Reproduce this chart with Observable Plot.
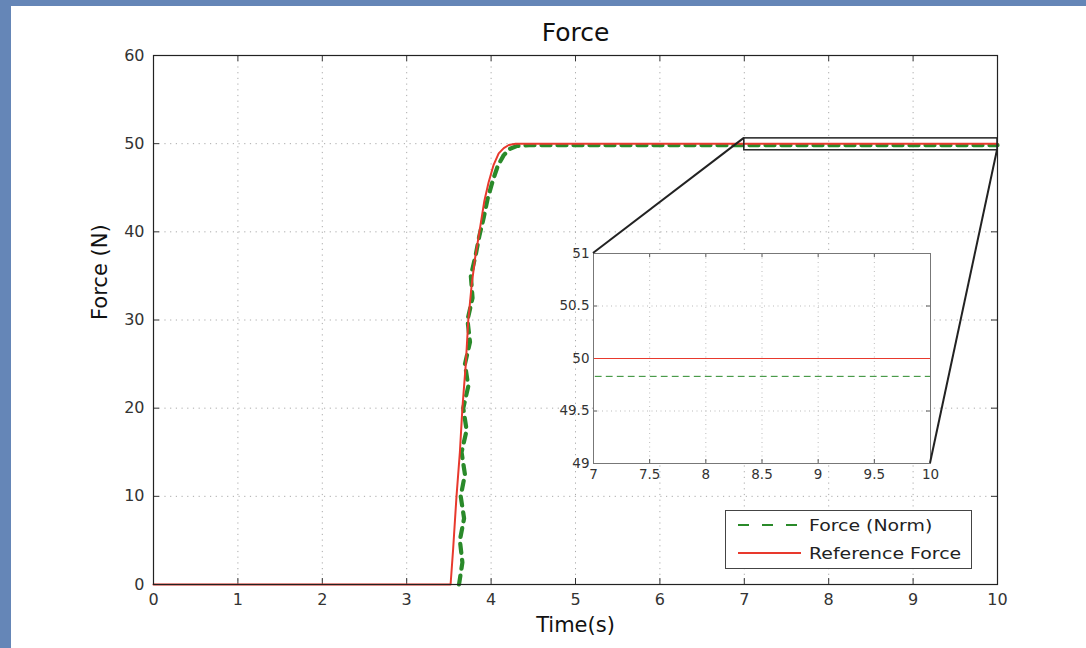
<!DOCTYPE html>
<html><head><meta charset="utf-8">
<script src="https://cdn.jsdelivr.net/npm/d3@7"></script>
<script src="https://cdn.jsdelivr.net/npm/@observablehq/plot@0.6"></script>
<style>
html,body{margin:0;padding:0;background:#6586b7;width:1086px;height:648px;overflow:hidden;}
#page{position:absolute;left:11px;top:6px;width:1075px;height:642px;background:#fff;font-family:"DejaVu Sans",sans-serif;}
#main,#inset,#links,#legend{position:absolute;}
#main{left:0;top:0;}
#inset{left:542px;top:237px;}
#links{left:0;top:0;pointer-events:none;}
#legend{left:714px;top:504px;width:245px;height:57px;border:1px solid #444;background:#fff;color:#222;font-size:16px;}
.row{position:absolute;left:0;height:24px;display:flex;align-items:center;}
.row svg{margin-left:12px;margin-right:8px;}
.row span{display:inline-block;transform:scaleX(1.18);transform-origin:left center;}
</style></head><body><div id="page"><div id="main"></div><div id="inset"></div><svg id="links" width="1075" height="642"></svg><div id="legend"></div></div>
<script>
// ---- data ----
const xTicks = [0,1,2,3,4,5,6,7,8,9,10];
const yTicks = [0,10,20,30,40,50,60];
const insetXTicks = [7,7.5,8,8.5,9,9.5,10];
const insetYTicks = [49,49.5,50,50.5,51];
const refTime  = [0, 3.52, 3.55, 3.59, 3.63, 3.66, 3.70, 3.73, 3.77, 3.81, 3.87, 3.92, 3.97, 4.03, 4.09, 4.15, 4.21, 4.29, 4.40, 5, 7, 10];
const refForce = [0, 0,    4,    10,   15,   20,   25,   30,   34,   37,   40.5, 43.5, 45.6, 47.6, 48.9, 49.5, 49.85, 50,  50,   50, 50, 50];
const normTime  = [3.62, 3.66, 3.63, 3.68, 3.64, 3.69, 3.65, 3.71, 3.67, 3.73, 3.69, 3.75, 3.72, 3.78, 3.76, 3.82, 3.86, 3.91, 3.96, 4.02, 4.08, 4.15, 4.22, 4.31, 4.45, 5, 7, 10];
const normForce = [0,    2.5,  5,    7.5,  10,   12.5, 15,   17.5, 20,   22.5, 25,   27.5, 30,   32.5, 35,   37.5, 39.5, 41.5, 43.8, 45.8, 47.5, 48.7, 49.4, 49.75, 49.83, 49.83, 49.83, 49.83];
const zoomBox = [{x1: 7, x2: 10, y1: 49.25, y2: 50.6}];
const seriesNames = ["Force (Norm)", "Reference Force"];
const seriesColors = ["#2a8a2a", "#e8392d"];

const refData = refTime.map((t,i)=>({t, f: refForce[i]}));
const normData = normTime.map((t,i)=>({t, f: normForce[i]}));

const font = '"DejaVu Sans", sans-serif';
const W = 1075, H = 642, mL = 142, mR = 89, mT = 49, mB = 64;
const pw = W - mL - mR, ph = H - mT - mB;

const main = Plot.plot({
  width: W, height: H, marginLeft: mL, marginRight: mR, marginTop: mT, marginBottom: mB,
  x: {domain: [0,10]},
  y: {domain: [0,60]},
  style: {fontFamily: font, fontSize: "16px", color: "#333", background: "transparent", overflow: "visible"},
  marks: [
    Plot.gridX(xTicks, {stroke: "#aaa", strokeOpacity: 1, strokeDasharray: "1.2,4.5"}),
    Plot.gridY(yTicks, {stroke: "#aaa", strokeOpacity: 1, strokeDasharray: "1.2,4.5"}),
    Plot.axisX(xTicks, {tickSize: 0, tickPadding: 9, label: null, tickFormat: d => String(d), fontSize: 16}),
    Plot.axisY(yTicks, {tickSize: 0, tickPadding: 9, label: null, tickFormat: d => String(d), fontSize: 16}),
    Plot.tickX(xTicks, {x: d => d, insetTop: ph - 6, stroke: "#333"}),
    Plot.tickX(xTicks, {x: d => d, insetBottom: ph - 6, stroke: "#333"}),
    Plot.tickY(yTicks, {y: d => d, insetRight: pw - 6, stroke: "#333"}),
    Plot.tickY(yTicks, {y: d => d, insetLeft: pw - 6, stroke: "#333"}),
    Plot.line(normData, {x: "t", y: "f", stroke: seriesColors[0], strokeWidth: 4.2, strokeDasharray: "9,7"}),
    Plot.line(refData, {x: "t", y: "f", stroke: seriesColors[1], strokeWidth: 2}),
    Plot.rect(zoomBox, {x1: "x1", x2: "x2", y1: "y1", y2: "y2", fill: "none", stroke: "#222", strokeWidth: 1.5}),
    Plot.frame({stroke: "#222", strokeWidth: 1.2}),
    Plot.text(["Force"], {frameAnchor: "top", dy: -32, fontSize: 25, fill: "#111"}),
    Plot.text(["Time(s)"], {frameAnchor: "bottom", dy: 47, fontSize: 21, fill: "#111"}),
    Plot.text(["Force (N)"], {frameAnchor: "left", dx: -53, rotate: -90, fontSize: 21, fill: "#111"})
  ]
});
document.getElementById("main").appendChild(main);

const iW = 389, iH = 244, imL = 40, imR = 12, imT = 10, imB = 24;
const ipw = iW - imL - imR, iph = iH - imT - imB;
const inset = Plot.plot({
  width: iW, height: iH, marginLeft: imL, marginRight: imR, marginTop: imT, marginBottom: imB,
  x: {domain: [7,10]},
  y: {domain: [49,51]},
  style: {fontFamily: font, fontSize: "13px", color: "#333", background: "transparent", overflow: "visible"},
  marks: [
    Plot.frame({fill: "white", stroke: "none"}),
    Plot.gridX(insetXTicks, {stroke: "#bbb", strokeOpacity: 1, strokeDasharray: "1,3.5"}),
    Plot.gridY(insetYTicks, {stroke: "#bbb", strokeOpacity: 1, strokeDasharray: "1,3.5"}),
    Plot.axisX(insetXTicks, {tickSize: 0, tickPadding: 6, label: null, tickFormat: d => String(d), fontSize: 13.5}),
    Plot.axisY(insetYTicks, {tickSize: 0, tickPadding: 4, label: null, tickFormat: d => String(d), fontSize: 13.5}),
    Plot.tickX(insetXTicks, {x: d => d, insetTop: iph - 4, stroke: "#555"}),
    Plot.tickX(insetXTicks, {x: d => d, insetBottom: iph - 4, stroke: "#555"}),
    Plot.tickY(insetYTicks, {y: d => d, insetRight: ipw - 4, stroke: "#555"}),
    Plot.tickY(insetYTicks, {y: d => d, insetLeft: ipw - 4, stroke: "#555"}),
    Plot.line(normData, {x: "t", y: "f", stroke: seriesColors[0], strokeWidth: 1, strokeDasharray: "6,5", clip: true}),
    Plot.line(refData, {x: "t", y: "f", stroke: seriesColors[1], strokeWidth: 1.2, clip: true}),
    Plot.frame({stroke: "#777", strokeWidth: 1})
  ]
});
document.getElementById("inset").appendChild(inset);

// connectors from zoom box to inset corners, via both plots' scales
const mx = main.scale("x"), my = main.scale("y"), ix = inset.scale("x"), iy = inset.scale("y");
const offX = 542, offY = 237;
const z = zoomBox[0];
const links = [
  [mx.apply(z.x1), my.apply(z.y2), offX + ix.apply(7), offY + iy.apply(51)],
  [mx.apply(z.x2), my.apply(z.y1), offX + ix.apply(10), offY + iy.apply(49)]
];
d3.select("#links").selectAll("line").data(links).join("line")
  .attr("x1", d => d[0]).attr("y1", d => d[1]).attr("x2", d => d[2]).attr("y2", d => d[3])
  .attr("stroke", "#222").attr("stroke-width", 2);

// legend
const leg = d3.select("#legend");
seriesNames.forEach((name, i) => {
  const row = leg.append("div").attr("class", "row").style("top", (i === 0 ? 2 : 30) + "px");
  const s = row.append("svg").attr("width", 63).attr("height", 10);
  s.append("line").attr("x1", 0).attr("x2", 63).attr("y1", 5).attr("y2", 5)
    .attr("stroke", seriesColors[i]).attr("stroke-width", 2)
    .attr("stroke-dasharray", i === 0 ? "11,13" : null);
  row.append("span").text(name);
});
</script></body></html>
